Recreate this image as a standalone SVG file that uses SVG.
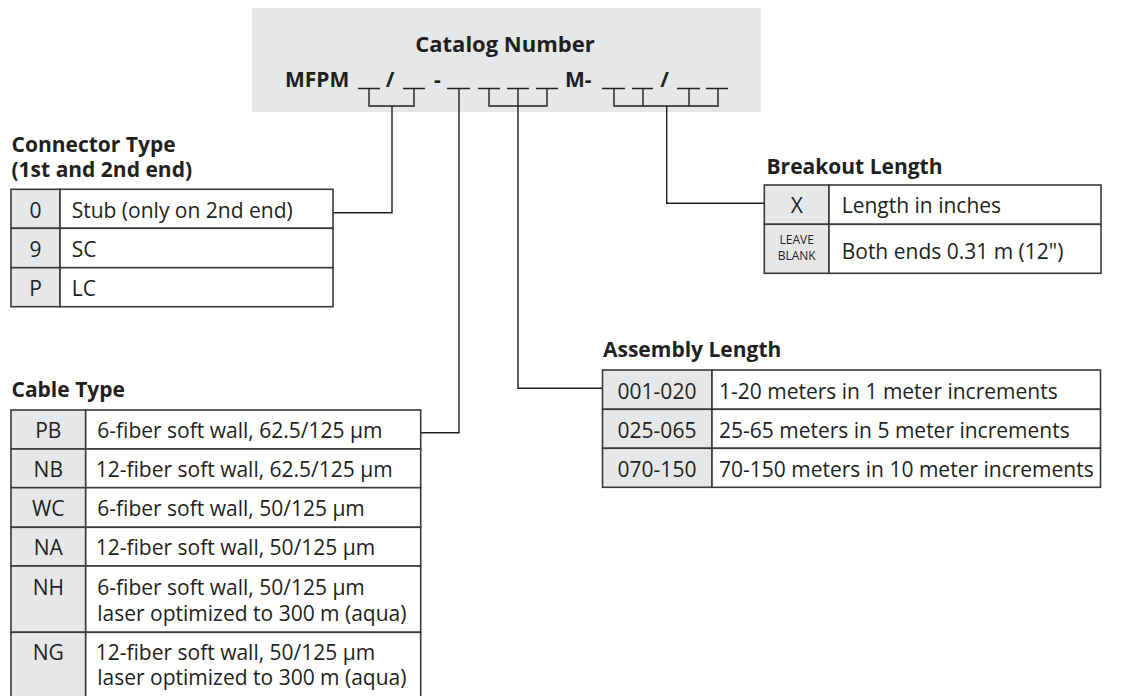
<svg xmlns="http://www.w3.org/2000/svg" width="1126" height="696" viewBox="0 0 1126 696">
<style>
text{font-family:"Open Sans","Noto Sans","Liberation Sans",sans-serif;fill:#231f20;font-size:21px}
.b{font-weight:bold}
.c{text-anchor:middle}
.sm{font-size:12px}
.code{fill:#e6e7e8;stroke:#3a3a3a;stroke-width:1.6}
.desc{fill:#ffffff;stroke:#3a3a3a;stroke-width:1.6}
.ln{fill:none;stroke:#231f20;stroke-width:1.4}
</style>
<rect width="1126" height="696" fill="#ffffff"/>

<g id="catalog-number">
<rect x="252" y="8" width="509" height="104" fill="#e6e7e8"/>
<text class="b c" x="505" y="52" style="font-size:22px">Catalog Number</text>
<text class="b" x="285" y="87">MFPM</text>
<text class="b c" x="390" y="87">/</text>
<text class="b c" x="437.5" y="87">-</text>
<text class="b" x="565" y="87">M-</text>
<text class="b c" x="664.5" y="87">/</text>
<g class="ln">
<path d="M358 88.5H380M403 88.5H425M447 88.5H470M478 88.5H500M507 88.5H529M536 88.5H558M602 88.5H625M632 88.5H653M677 88.5H700M706 88.5H728"/>
<path d="M369 88.5V106H414V88.5"/>
<path d="M489 88.5V106H547V88.5M518 88.5V106"/>
<path d="M614 88.5V106H718V88.5M643 88.5V106M689 88.5V106"/>
</g>
</g>

<g id="connectors" class="ln">
<path d="M392 106V212.7H333"/>
<path d="M459 88.5V432.7H420.7"/>
<path d="M518 106V388.3H602.5"/>
<path d="M666.7 106V203.3H764.3"/>
</g>

<g id="connector-type">
<text class="b" x="11.5" y="152">Connector Type</text>
<text class="b" x="11.5" y="177">(1st and 2nd end)</text>
<rect class="code" x="11" y="189.3" width="49" height="39"/>
<rect class="desc" x="60" y="189.3" width="273" height="39"/>
<rect class="code" x="11" y="228.3" width="49" height="39.4"/>
<rect class="desc" x="60" y="228.3" width="273" height="39.4"/>
<rect class="code" x="11" y="267.7" width="49" height="39"/>
<rect class="desc" x="60" y="267.7" width="273" height="39"/>
<text class="c" x="35.5" y="218">0</text>
<text x="71.7" y="218">Stub (only on 2nd end)</text>
<text class="c" x="35.5" y="257">9</text>
<text x="71.7" y="257">SC</text>
<text class="c" x="35.5" y="296">P</text>
<text x="71.7" y="296">LC</text>
</g>

<g id="breakout-length">
<text class="b" x="766.5" y="174">Breakout Length</text>
<rect class="code" x="764.3" y="185" width="64.7" height="39.3"/>
<rect class="desc" x="829" y="185" width="272" height="39.3"/>
<rect class="code" x="764.3" y="224.3" width="64.7" height="49"/>
<rect class="desc" x="829" y="224.3" width="272" height="49"/>
<text class="c" x="796.7" y="213.3">X</text>
<text x="841.7" y="213.3">Length in inches</text>
<text class="c sm" x="796.7" y="244.3">LEAVE</text>
<text class="c sm" x="796.7" y="260">BLANK</text>
<text x="841.7" y="259.3">Both ends 0.31 m (12")</text>
</g>

<g id="assembly-length">
<text class="b" x="603" y="356.7">Assembly Length</text>
<rect class="code" x="602.5" y="370" width="109.5" height="39.3"/>
<rect class="desc" x="712" y="370" width="388.5" height="39.3"/>
<rect class="code" x="602.5" y="409.3" width="109.5" height="39"/>
<rect class="desc" x="712" y="409.3" width="388.5" height="39"/>
<rect class="code" x="602.5" y="448.3" width="109.5" height="39"/>
<rect class="desc" x="712" y="448.3" width="388.5" height="39"/>
<text class="c" x="657" y="399.3">001-020</text>
<text x="719" y="399.3">1-20 meters in 1 meter increments</text>
<text class="c" x="657" y="438.3">025-065</text>
<text x="719" y="438.3">25-65 meters in 5 meter increments</text>
<text class="c" x="657" y="477.3">070-150</text>
<text x="719" y="477.3">70-150 meters in 10 meter increments</text>
</g>

<g id="cable-type">
<text class="b" x="11.5" y="397.3">Cable Type</text>
<rect class="code" x="11" y="410" width="74.7" height="39"/>
<rect class="desc" x="85.7" y="410" width="335" height="39"/>
<rect class="code" x="11" y="449" width="74.7" height="38.7"/>
<rect class="desc" x="85.7" y="449" width="335" height="38.7"/>
<rect class="code" x="11" y="487.7" width="74.7" height="39.6"/>
<rect class="desc" x="85.7" y="487.7" width="335" height="39.6"/>
<rect class="code" x="11" y="527.3" width="74.7" height="38.7"/>
<rect class="desc" x="85.7" y="527.3" width="335" height="38.7"/>
<rect class="code" x="11" y="566" width="74.7" height="66.3"/>
<rect class="desc" x="85.7" y="566" width="335" height="66.3"/>
<rect class="code" x="11" y="632.3" width="74.7" height="66.7"/>
<rect class="desc" x="85.7" y="632.3" width="335" height="66.7"/>
<text class="c" x="48.3" y="437.7">PB</text>
<text x="97.3" y="437.7">6-fiber soft wall, 62.5/125 µm</text>
<text class="c" x="48.3" y="476.5">NB</text>
<text x="95.7" y="476.5">12-fiber soft wall, 62.5/125 µm</text>
<text class="c" x="48.3" y="515.5">WC</text>
<text x="97.3" y="515.5">6-fiber soft wall, 50/125 µm</text>
<text class="c" x="48.3" y="555">NA</text>
<text x="95.7" y="555">12-fiber soft wall, 50/125 µm</text>
<text class="c" x="48.3" y="595">NH</text>
<text x="97.3" y="595">6-fiber soft wall, 50/125 µm</text>
<text x="97.3" y="620.5">laser optimized to 300 m (aqua)</text>
<text class="c" x="48.3" y="660">NG</text>
<text x="95.7" y="660">12-fiber soft wall, 50/125 µm</text>
<text x="97.3" y="685">laser optimized to 300 m (aqua)</text>
</g>
</svg>
